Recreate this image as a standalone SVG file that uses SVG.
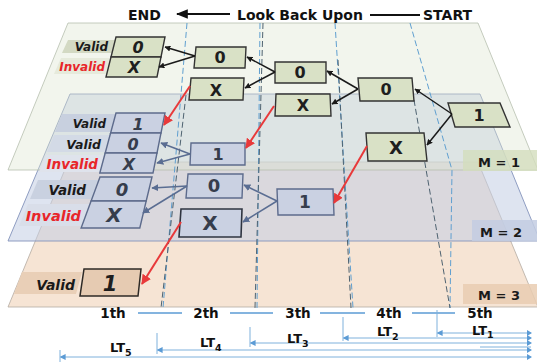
<svg xmlns="http://www.w3.org/2000/svg" width="537" height="364" viewBox="0 0 537 364">
  <style>
    .t { font-family: "DejaVu Sans", "Liberation Sans", sans-serif; font-weight: bold; }
    .title { font-size: 14px; fill: #111; }
    .lbl { font-size: 12px; font-style: italic; fill: #1a1a1a; }
    .bad { fill: #e8262a; }
    .g { fill: #d9e1c6; stroke: #333; stroke-width: 1.4; }
    .b { fill: #cad1e2; stroke: #5d6b8c; stroke-width: 1.4; }
    .o { fill: #e6cbb2; stroke: #2e2a26; stroke-width: 1.5; }
    .val { font-size: 16px; text-anchor: middle; fill: #1e1e1e; }
    .vb { fill: #363d4c; }
    .it { font-style: italic; }
    .dashB { fill: none; stroke: #5f9fd0; stroke-width: 1; stroke-dasharray: 6 3; }
    .dashD { fill: none; stroke: #4e6270; stroke-width: 1; stroke-dasharray: 6 3; }
    .ak { stroke: #1a1a1a; stroke-width: 1.5; fill: none; marker-end: url(#hk); }
    .ab { stroke: #5a6d92; stroke-width: 1.5; fill: none; marker-end: url(#hb); }
    .ar { stroke: #e8393a; stroke-width: 2; fill: none; marker-end: url(#hr); }
    .lt { stroke: #7fb1dc; stroke-width: 1; fill: none; }
    .ax { font-size: 13.5px; fill: #111; }
    .ltx { font-size: 13px; fill: #111; }
    .mlab { font-size: 13px; fill: #1a1a1a; }
  </style>
  <defs>
    <marker id="hk" viewBox="0 0 10 10" refX="9" refY="5" markerWidth="6" markerHeight="6" orient="auto" markerUnits="userSpaceOnUse">
      <path d="M0,0 L10,5 L0,10 z" fill="#1a1a1a"/>
    </marker>
    <marker id="hb" viewBox="0 0 10 10" refX="9" refY="5" markerWidth="7" markerHeight="7" orient="auto" markerUnits="userSpaceOnUse">
      <path d="M0,0 L10,5 L0,10 z" fill="#5a6d92"/>
    </marker>
    <marker id="hr" viewBox="0 0 10 10" refX="9" refY="5" markerWidth="10" markerHeight="10" orient="auto" markerUnits="userSpaceOnUse">
      <path d="M0,0 L10,5 L0,10 z" fill="#e8393a"/>
    </marker>
    <marker id="hl" viewBox="0 0 10 10" refX="1" refY="5" markerWidth="6" markerHeight="6" orient="auto" markerUnits="userSpaceOnUse">
      <path d="M0,0 L10,5 L0,10 z" fill="#5b9bd5"/>
    </marker>
    <marker id="tk" viewBox="0 0 10 10" refX="9" refY="5" markerWidth="12" markerHeight="12" orient="auto" markerUnits="userSpaceOnUse">
      <path d="M0,1 L10,5 L0,9 z" fill="#111"/>
    </marker>
  </defs>

  <!-- layers: M = 3 at the back, M = 1 in front -->
  <g id="layers">
    <polygon points="68,162 478,162 538,307 8,307" fill="#f6e4d4" stroke="#b4aba2" stroke-width="0.8"/>
    <polygon points="70,94 480,94 540,241 8,241" fill="#c2cde4" fill-opacity="0.55" stroke="#8393bb" stroke-width="0.9"/>
    <polygon points="68,23 478,23 538,170 8,170" fill="#dde6d0" fill-opacity="0.38" stroke="#b6bfae" stroke-width="0.8"/>
  </g>

  <!-- layer tags -->
  <g id="tags">
    <rect x="463" y="150" width="74" height="21" fill="#d3ddbd" opacity="0.8"/>
    <text class="t mlab" x="478" y="167">M = 1</text>
    <rect x="472" y="220" width="65" height="21" fill="#c3cde2" opacity="0.85"/>
    <text class="t mlab" x="480" y="237">M = 2</text>
    <rect x="463" y="284" width="74" height="20" fill="#e9ccb1" opacity="0.85"/>
    <text class="t mlab" x="478" y="300">M = 3</text>
  </g>

  <!-- time step boundaries -->
  <g id="steps">
    <path class="dashB" d="M187,23 L163,308"/>
    <path class="dashD" d="M186,95 L161,308"/>
    <path class="dashB" d="M260,23 L257,308"/>
    <path class="dashD" d="M263,23 L255,308"/>
    <path class="dashB" d="M335,23 L353,308"/>
    <path class="dashD" d="M338,60 L351,308"/>
    <path class="dashB" d="M410,23 L452,170 L450,308"/>
    <path class="dashD" d="M414,100 L450,308"/>
  </g>

  <!-- row tags on the left -->
  <g id="row-tags">
    <polygon points="68,40 116,40 112,53 62,53" fill="#d3d9c3"/>
    <polygon points="61,58 110,58 106,74 54,74" fill="#e6eadb"/>
    <text class="t lbl" x="108" y="51" text-anchor="end">Valid</text>
    <text class="t lbl bad" x="105" y="71" text-anchor="end">Invalid</text>

    <polygon points="62,114 116,114 112,132 55,132" fill="#c8d0df"/>
    <polygon points="54,135 110,135 106,152 47,152" fill="#d3dae6"/>
    <polygon points="46,155 105,155 101,172 39,172" fill="#dfe3ec"/>
    <polygon points="38,180 99,180 92,199 30,199" fill="#c9d1e0"/>
    <polygon points="28,204 90,204 82,226 19,226" fill="#d9dee9"/>
    <text class="t lbl" x="106" y="128" text-anchor="end">Valid</text>
    <text class="t lbl" x="101" y="149" text-anchor="end" style="font-size:12.5px">Valid</text>
    <text class="t lbl bad" x="98" y="169" text-anchor="end" style="font-size:13.5px">Invalid</text>
    <text class="t lbl" x="86" y="195" text-anchor="end" style="font-size:13.5px">Valid</text>
    <text class="t lbl bad" x="81" y="221" text-anchor="end" style="font-size:14.5px">Invalid</text>

    <polygon points="22,272 82,272 76,294 14,294" fill="#e9cfb7"/>
    <text class="t lbl" x="75" y="290" text-anchor="end" style="font-size:14px">Valid</text>
  </g>

  <!-- layer M = 1 -->
  <g id="s1">
    <polygon class="g" points="116,37 165,37 161,57 111,57"/>
    <polygon class="g" points="111,57 161,57 157,77 106,77"/>
    <text class="t val it" x="138" y="53">0</text>
    <text class="t val it" x="134" y="73">X</text>
  </g>
  <g id="a1">
    <polygon class="g" points="196,47 246,47 245,68 194,68"/>
    <text class="t val" x="220" y="63">0</text>
  </g>
  <g id="b1">
    <polygon class="g" points="191,78 244,78 243,100 189,100"/>
    <text class="t val" x="216" y="96">X</text>
  </g>
  <g id="c1">
    <polygon class="g" points="275,62 326,62 326,83 275,83"/>
    <text class="t val" x="300" y="78">0</text>
  </g>
  <g id="d1">
    <polygon class="g" points="276,94 330,94 331,116 275,116"/>
    <text class="t val" x="303" y="111">X</text>
  </g>
  <g id="e1">
    <polygon class="g" points="358,78 412,78 414,101 360,101"/>
    <text class="t val" x="386" y="95">0</text>
  </g>
  <g id="f1">
    <polygon class="g" points="448,103 500,103 510,127 455,127"/>
    <text class="t val" x="479" y="121">1</text>
  </g>
  <g id="g1">
    <polygon class="g" points="366,133 424,133 427,161 368,161"/>
    <text class="t val" x="396" y="154" style="font-size:18px">X</text>
  </g>

  <!-- layer M = 2 -->
  <g id="s2">
    <polygon class="b" points="116,113 165,113 161,133 110.6,133"/>
    <polygon class="b" points="110.6,133 161,133 157,153 105.2,153"/>
    <polygon class="b" points="105.2,153 157,153 153,173 99.8,173"/>
    <text class="t val it vb" x="138" y="130">1</text>
    <text class="t val it vb" x="133" y="150">0</text>
    <text class="t val it vb" x="129" y="170">X</text>
  </g>
  <g id="s3">
    <polygon class="b" points="100,177 152,177 146.2,201 91.1,201"/>
    <polygon class="b" points="91.1,201 146.2,201 139.8,228 81.1,228"/>
    <text class="t val it vb" x="122" y="196" style="font-size:18px">0</text>
    <text class="t val it vb" x="114" y="222" style="font-size:20px">X</text>
  </g>
  <g id="h2">
    <polygon class="b" points="191,143 245,143 245,165 190,165"/>
    <text class="t val vb" x="218" y="160">1</text>
  </g>
  <g id="i2">
    <polygon class="b" points="188,174 243,174 242,198 186,198"/>
    <text class="t val vb" x="214" y="192" style="font-size:18px">0</text>
  </g>
  <g id="j2">
    <polygon class="b" points="181,209 242,209 241,237 179,237" style="stroke:#2f3440;stroke-width:1.6"/>
    <text class="t val vb" x="210" y="230" style="font-size:20px">X</text>
  </g>
  <g id="k2">
    <polygon class="b" points="277,189 333,189 334,215 278,215"/>
    <text class="t val vb" x="305" y="208" style="font-size:17px">1</text>
  </g>

  <!-- layer M = 3 -->
  <g id="l3">
    <polygon class="o" points="84,269 141,269 138,296 80,296"/>
    <text class="t val it" x="110" y="291" style="font-size:21px">1</text>
  </g>

  <!-- connectors -->
  <g id="connectors">
    <path class="ak" d="M195,56 L165,47"/>
    <path class="ak" d="M195,56 L159,67"/>
    <path class="ak" d="M275,72 L247,57"/>
    <path class="ak" d="M275,72 L245,88"/>
    <path class="ak" d="M358,89 L327,71"/>
    <path class="ak" d="M358,89 L332,104"/>
    <path class="ak" d="M452,114 L415,89"/>
    <path class="ak" d="M452,114 L427,145"/>

    <path class="ab" d="M190,154 L161,143"/>
    <path class="ab" d="M190,154 L157,163"/>
    <path class="ab" d="M187,186 L152,188"/>
    <path class="ab" d="M187,186 L143,213"/>
    <path class="ab" d="M277,201 L244,185"/>
    <path class="ab" d="M277,201 L243,222"/>

    <path class="ar" d="M190,86 L164,125"/>
    <path class="ar" d="M274,106 L246,148"/>
    <path class="ar" d="M367,146 L334,203"/>
    <path class="ar" d="M181,222 L142,284"/>
  </g>

  <!-- heading -->
  <g id="heading">
    <text class="t title" x="128" y="20">END</text>
    <path d="M230,14 L177,14" stroke="#111" stroke-width="2.2" marker-end="url(#tk)"/>
    <text class="t title" x="237" y="20">Look Back Upon</text>
    <path d="M370,15 L420,15" stroke="#111" stroke-width="2"/>
    <text class="t title" x="423" y="20">START</text>
  </g>

  <!-- time axis -->
  <g id="axis">
    <text class="t ax" x="113" y="318" text-anchor="middle">1th</text>
    <text class="t ax" x="206" y="318" text-anchor="middle">2th</text>
    <text class="t ax" x="298" y="318" text-anchor="middle">3th</text>
    <text class="t ax" x="389" y="318" text-anchor="middle">4th</text>
    <text class="t ax" x="480" y="318" text-anchor="middle">5th</text>
    <g stroke="#5b9bd5" stroke-width="1.5">
      <path d="M138,313 H182"/>
      <path d="M230,313 H273"/>
      <path d="M320,313 H365"/>
      <path d="M412,313 H455"/>
    </g>
  </g>

  <!-- look-back spans -->
  <g id="spans">
    <path class="lt" d="M437,310 V337"/>
    <path class="lt" d="M343,317 V341"/>
    <path class="lt" d="M250,327 V347"/>
    <path class="lt" d="M157,333 V354"/>
    <path class="lt" d="M60,350 V362"/>
    <path class="lt" d="M531,333 H442" marker-end="url(#hl)"/>
    <path class="lt" d="M531,338 H348" marker-end="url(#hl)"/>
    <path class="lt" d="M531,343 H255" marker-end="url(#hl)"/>
    <path class="lt" d="M531,350 H162" marker-end="url(#hl)"/>
    <path class="lt" d="M531,357 H65" marker-end="url(#hl)"/>
    <path class="lt" d="M531,347 H480"/>
    <g fill="#5b9bd5">
      <path d="M527,330 L532,333 L527,336 z"/>
      <path d="M527,335 L532,338 L527,341 z"/>
      <path d="M527,340 L532,343 L527,346 z"/>
      <path d="M527,347 L532,350 L527,353 z"/>
      <path d="M527,354 L532,357 L527,360 z"/>
    </g>
    <text class="t ltx" x="472" y="334.5">LT<tspan font-size="9.5" dy="3.5">1</tspan></text>
    <text class="t ltx" x="377" y="336">LT<tspan font-size="9.5" dy="3.5">2</tspan></text>
    <text class="t ltx" x="287" y="343">LT<tspan font-size="9.5" dy="3.5">3</tspan></text>
    <text class="t ltx" x="200" y="347">LT<tspan font-size="9.5" dy="3.5">4</tspan></text>
    <text class="t ltx" x="110" y="352">LT<tspan font-size="9.5" dy="3.5">5</tspan></text>
  </g>
</svg>
